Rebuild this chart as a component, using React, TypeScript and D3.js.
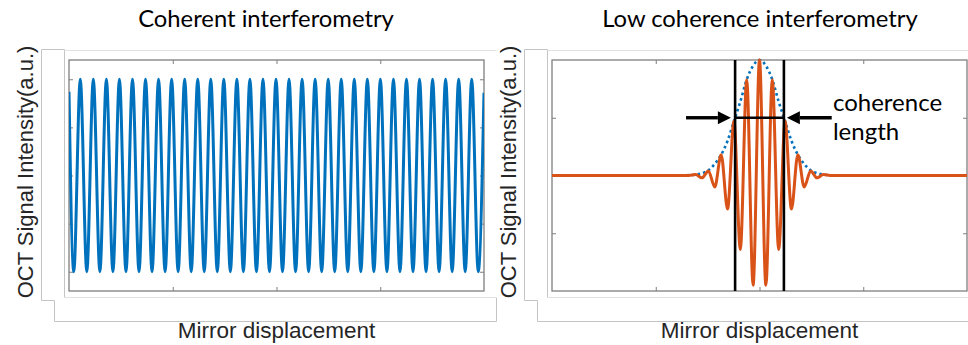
import { useEffect, useRef } from 'react';
import * as d3 from 'd3';

// Coherent interferometry: extrema of the fringe pattern (position, intensity)
const coherentPos = [
  0, 1.15, 2.72, 4.29, 5.86, 7.44, 9.01, 10.58, 12.15, 13.73, 15.3, 16.87, 18.44, 20.01, 21.58, 23.16,
  24.73, 26.3, 27.87, 29.45, 31.02, 32.59, 34.16, 35.73, 37.3, 38.88, 40.45, 42.02, 43.59, 45.17,
  46.74, 48.31, 49.88, 51.45, 53.02, 54.6, 56.17, 57.74, 59.31, 60.89, 62.46, 64.03, 65.6, 67.17,
  68.74, 70.32, 71.89, 73.46, 75.03, 76.61, 78.18, 79.75, 81.32, 82.89, 84.46, 86.04, 87.61, 89.18,
  90.75, 92.33, 93.9, 95.47, 97.04, 98.61, 100
];
const coherentVal = [
  0.87, -1, 1, -1, 1, -1, 1, -1, 1, -1, 1, -1, 1, -1, 1, -1,
  1, -1, 1, -1, 1, -1, 1, -1, 1, -1, 1, -1, 1, -1,
  1, -1, 1, -1, 1, -1, 1, -1, 1, -1, 1, -1, 1, -1,
  1, -1, 1, -1, 1, -1, 1, -1, 1, -1, 1, -1, 1, -1,
  1, -1, 1, -1, 1, -1, 0.86
];

// Low coherence interferometry: fringe extrema
const lowPos = [
  0, 33, 34.6, 36.14, 37.68, 39.22, 40.76, 42.3, 43.84, 45.38, 46.92, 48.46, 50,
  51.54, 53.08, 54.62, 56.16, 57.7, 59.24, 60.78, 62.32, 63.86, 65.4, 67, 100
];
const lowVal = [
  0, 0, 0.008, -0.02, 0.04, -0.1, 0.18, -0.29, 0.47, -0.64, 0.83, -0.95, 1,
  -0.95, 0.83, -0.64, 0.47, -0.29, 0.18, -0.1, 0.04, -0.02, 0.008, 0, 0
];

// envelope (dotted)
const envPos = [
  0, 30, 33, 35, 36.14, 37.68, 39.22, 40.76, 42.3, 43.84, 45.38, 46.92, 48.46, 50,
  51.54, 53.08, 54.62, 56.16, 57.7, 59.24, 60.78, 62.32, 63.86, 65, 67, 70, 100
];
const envVal = [
  0, 0, 0.003, 0.01, 0.02, 0.045, 0.1, 0.18, 0.3, 0.47, 0.64, 0.83, 0.95, 1,
  0.95, 0.83, 0.64, 0.47, 0.3, 0.18, 0.1, 0.045, 0.02, 0.01, 0.003, 0, 0
];

// coherence length marker (half maximum)
const fwhmPos = [44.12, 55.88];
const fwhmLevel = 0.5;
const arrowLeft = [32.3, 43.1];
const arrowRight = [67.4, 56.6];

const xTicks = [25, 50, 75];
const coherentYTicks = [-1, -0.5, 0, 0.5, 1];
const lowYTicks = [-0.5, 0, 0.5];

const titles = ['Coherent interferometry', 'Low coherence interferometry'];
const yLabel = 'OCT Signal Intensity(a.u.)';
const xLabel = 'Mirror displacement';
const noteLines = ['coherence', 'length'];

const W = 968;
const H = 345;

type Pt = [number, number];

export default function App() {
  const ref = useRef<SVGSVGElement | null>(null);

  useEffect(() => {
    if (!ref.current) return;
    const svg = d3.select(ref.current);
    svg.selectAll('*').remove();

    const panels = [
      { left: 69, yDomain: [-1.2, 1.2], yTicks: coherentYTicks, titleX: 266 },
      { left: 552, yDomain: [-1, 1], yTicks: lowYTicks, titleX: 760 }
    ];
    const top = 60;
    const pw = 415;
    const ph = 231;
    const axisColor = '#7f7f7f';

    const defs = svg.append('defs');

    const scales = panels.map((p, i) => {
      const x = d3.scaleLinear().domain([0, 100]).range([p.left, p.left + pw]);
      const y = d3.scaleLinear().domain(p.yDomain).range([top + ph, top]);

      // decorative frames around each figure
      const o = p.left - 69;
      const frame = svg.append('g').attr('fill', 'none').attr('stroke-width', 1);
      frame
        .append('path')
        .attr('d', `M${o + 64.5},297.5 V49.5 H${o + 41.5} V300.5 H${o + 54.5} V321.5 H${o + 496.5} V297.5`)
        .attr('stroke', '#c4c4c4');
      frame
        .append('path')
        .attr('d', `M${o + 64.5},50.5 H${Math.min(o + 496.5, W)} M${o + 64.5},297.5 H${Math.min(o + 496.5, W)}`)
        .attr('stroke', '#e2e2e2');

      const clipId = `clip-${i}`;
      defs
        .append('clipPath')
        .attr('id', clipId)
        .append('rect')
        .attr('x', p.left)
        .attr('y', top - 2)
        .attr('width', pw)
        .attr('height', ph + 4);

      // ticks on all sides, pointing inward
      const noLabel = () => '';
      svg.append('g')
        .attr('transform', `translate(0,${top + ph})`)
        .call(d3.axisBottom(x).tickValues(xTicks).tickSize(-4).tickFormat(noLabel));
      svg.append('g')
        .attr('transform', `translate(0,${top})`)
        .call(d3.axisTop(x).tickValues(xTicks).tickSize(-4).tickFormat(noLabel));
      svg.append('g')
        .attr('transform', `translate(${p.left},0)`)
        .call(d3.axisLeft(y).tickValues(p.yTicks).tickSize(-4).tickFormat(noLabel));
      svg.append('g')
        .attr('transform', `translate(${p.left + pw},0)`)
        .call(d3.axisRight(y).tickValues(p.yTicks).tickSize(-4).tickFormat(noLabel));
      svg.selectAll('.domain').remove();
      svg.selectAll('.tick line').attr('stroke', axisColor).attr('stroke-width', 1);

      svg.append('rect')
        .attr('x', p.left)
        .attr('y', top)
        .attr('width', pw)
        .attr('height', ph)
        .attr('fill', 'none')
        .attr('stroke', axisColor)
        .attr('stroke-width', 1.3);

      // titles and axis labels
      svg.append('text')
        .attr('x', p.titleX)
        .attr('y', 27)
        .attr('text-anchor', 'middle')
        .style('font-family', 'Lato, "Open Sans", sans-serif')
        .style('font-size', '23.8px')
        .style('fill', '#000')
        .text(titles[i]);

      svg.append('text')
        .attr('transform', `translate(${p.left - 36},172) rotate(-90)`)
        .attr('text-anchor', 'middle')
        .style('font-family', '"Liberation Sans", Arial, sans-serif')
        .style('font-size', '22px')
        .style('fill', '#262626')
        .text(yLabel);

      svg.append('text')
        .attr('x', p.left + pw / 2)
        .attr('y', 338)
        .attr('text-anchor', 'middle')
        .style('font-family', '"Liberation Sans", Arial, sans-serif')
        .style('font-size', '22.5px')
        .style('fill', '#262626')
        .text(xLabel);

      return { x, y, clipId };
    });

    const line = (x: d3.ScaleLinear<number, number>, y: d3.ScaleLinear<number, number>) =>
      d3
        .line<Pt>()
        .x((d) => x(d[0]))
        .y((d) => y(d[1]))
        .curve(d3.curveMonotoneX);

    // Coherent fringes
    const s0 = scales[0];
    svg.append('path')
      .datum(coherentPos.map((p, i) => [p, coherentVal[i]] as Pt))
      .attr('clip-path', `url(#${s0.clipId})`)
      .attr('fill', 'none')
      .attr('stroke', '#0072BD')
      .attr('stroke-width', 3)
      .attr('d', line(s0.x, s0.y));

    // Low coherence fringes
    const s1 = scales[1];
    svg.append('path')
      .datum(envPos.map((p, i) => [p, envVal[i]] as Pt))
      .attr('clip-path', `url(#${s1.clipId})`)
      .attr('fill', 'none')
      .attr('stroke', '#0072BD')
      .attr('stroke-width', 2.6)
      .attr('stroke-dasharray', '2.6,3')
      .attr('d', line(s1.x, s1.y));

    svg.append('path')
      .datum(lowPos.map((p, i) => [p, lowVal[i]] as Pt))
      .attr('clip-path', `url(#${s1.clipId})`)
      .attr('fill', 'none')
      .attr('stroke', '#D95319')
      .attr('stroke-width', 3)
      .attr('d', line(s1.x, s1.y));

    // coherence length markers
    const marks = svg.append('g').attr('stroke', '#000').attr('stroke-width', 2.6);
    fwhmPos.forEach((p) => {
      marks.append('line')
        .attr('x1', s1.x(p))
        .attr('x2', s1.x(p))
        .attr('y1', top)
        .attr('y2', top + ph);
    });
    marks.append('line')
      .attr('x1', s1.x(fwhmPos[0]))
      .attr('x2', s1.x(fwhmPos[1]))
      .attr('y1', s1.y(fwhmLevel))
      .attr('y2', s1.y(fwhmLevel));

    [arrowLeft, arrowRight].forEach(([tail, tip]) => {
      const x0 = s1.x(tail);
      const x1 = s1.x(tip);
      const yy = s1.y(fwhmLevel);
      const dir = x1 > x0 ? 1 : -1;
      const headLen = 13;
      const headHalf = 6.5;
      svg.append('line')
        .attr('x1', x0)
        .attr('x2', x1 - dir * headLen)
        .attr('y1', yy)
        .attr('y2', yy)
        .attr('stroke', '#000')
        .attr('stroke-width', 3.4);
      svg.append('path')
        .attr('d', `M${x1},${yy} L${x1 - dir * headLen},${yy - headHalf} L${x1 - dir * headLen},${yy + headHalf} Z`)
        .attr('fill', '#000');
    });

    const note = svg.append('text')
      .attr('x', s1.x(67.7))
      .attr('y', 111)
      .style('font-family', 'Lato, "Open Sans", sans-serif')
      .style('font-size', '24px')
      .style('fill', '#000');
    noteLines.forEach((t, i) => {
      note.append('tspan').attr('x', s1.x(67.7)).attr('dy', i === 0 ? 0 : 29).text(t);
    });
  }, []);

  return (
    <svg
      ref={ref}
      width={W}
      height={H}
      style={{ position: 'absolute', left: 0, top: 0, background: '#fff' }}
    />
  );
}
